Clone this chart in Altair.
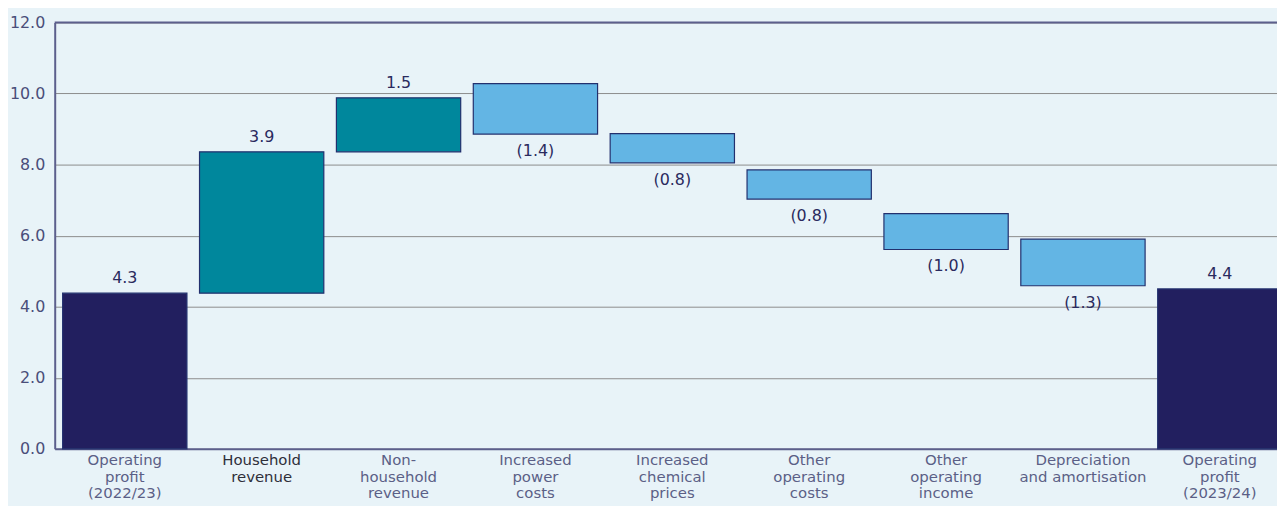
import altair as alt
import pandas as pd

categories = [
    "Operating|profit|(2022/23)",
    "Household|revenue",
    "Non-|household|revenue",
    "Increased|power|costs",
    "Increased|chemical|prices",
    "Other|operating|costs",
    "Other|operating|income",
    "Depreciation|and amortisation",
    "Operating|profit|(2023/24)",
]
bar_start = [0.0, 4.38, 8.36, 10.28, 8.87, 7.85, 6.62, 5.90, 0.0]
bar_end = [4.38, 8.36, 9.88, 8.86, 8.05, 7.03, 5.61, 4.59, 4.50]
value_labels = ["4.3", "3.9", "1.5", "(1.4)", "(0.8)", "(0.8)", "(1.0)", "(1.3)", "4.4"]
kinds = ["total", "increase", "increase", "decrease", "decrease", "decrease",
         "decrease", "decrease", "total"]

df = pd.DataFrame({
    "cat": categories,
    "start": bar_start,
    "end": bar_end,
    "label": value_labels,
    "kind": kinds,
})
df["top"] = df[["start", "end"]].max(axis=1)
df["bottom"] = df[["start", "end"]].min(axis=1)

BG = "#E8F3F8"
AXIS = "#5C5F8C"
FONT = "DejaVu Sans"

x_enc = alt.X(
    "cat:N",
    sort=categories,
    scale=alt.Scale(range=[0, 1243], paddingInner=0.092, paddingOuter=0.058),
    axis=alt.Axis(
        title=None,
        labelAngle=0,
        labelExpr="split(datum.label, '|')",
        labelFont=FONT,
        labelFontSize=15,
        labelLineHeight=16.5,
        labelColor={"condition": {"test": "datum.value == 'Household|revenue'", "value": "#2F2F3A"},
                    "value": "#5B5F86"},
        labelPadding=4,
        ticks=False,
        domainColor=AXIS,
        domainWidth=2,
        grid=False,
        labelOverlap=False,
    ),
)

y_scale = alt.Scale(domain=[0, 12], nice=False)

bars = alt.Chart(df).mark_bar(stroke="#22306E", strokeWidth=1.2).encode(
    x=x_enc,
    y=alt.Y(
        "start:Q",
        scale=y_scale,
        axis=alt.Axis(
            title=None,
            values=[0, 2, 4, 6, 8, 10, 12],
            format=".1f",
            labelFont=FONT,
            labelFontSize=16,
            labelColor="#4A4E7A",
            labelPadding=10,
            ticks=False,
            domainColor=AXIS,
            domainWidth=2,
            grid=True,
            gridColor="#8C8C8C",
            gridWidth=1,
        ),
    ),
    y2="end:Q",
    color=alt.Color(
        "kind:N",
        scale=alt.Scale(domain=["total", "increase", "decrease"],
                        range=["#221F5F", "#00879C", "#63B5E4"]),
        legend=None,
    ),
)

top_rule = alt.Chart(df).mark_rule(color=AXIS, strokeWidth=2).encode(
    y=alt.datum(12, scale=y_scale)
).transform_filter("datum.kind == 'total' && datum.end < 4.4")

pos_text = alt.Chart(df).transform_filter("datum.kind != 'decrease'").mark_text(
    font=FONT, fontSize=16, color="#2A2A5E", dy=-15, baseline="middle"
).encode(x=alt.X("cat:N", sort=categories), y=alt.Y("top:Q", scale=y_scale), text="label:N")

neg_text = alt.Chart(df).transform_filter("datum.kind == 'decrease'").mark_text(
    font=FONT, fontSize=16, color="#2A2A5E", dy=17, baseline="middle"
).encode(x=alt.X("cat:N", sort=categories), y=alt.Y("bottom:Q", scale=y_scale), text="label:N")

chart = alt.layer(bars, top_rule, pos_text, neg_text).properties(
    width=1230,
    height=429,
    autosize=alt.AutoSizeParams(type="none"),
    padding={"left": 47, "top": 13, "right": 0, "bottom": 58},
    background=BG,
).configure_view(stroke=None)

chart.save("out.html", embed_options={"renderer": "svg", "actions": False})
